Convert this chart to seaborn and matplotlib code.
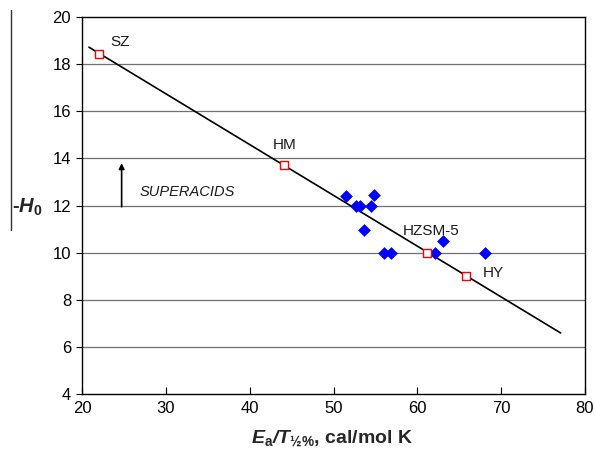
import matplotlib
matplotlib.use("Agg")
import matplotlib.pyplot as plt
import seaborn as sns
import pandas as pd
from matplotlib.lines import Line2D

# ---- data ----
blue_x = [51.5, 54.8, 52.7, 53.2, 54.5, 53.6, 56.0, 56.9, 62.1, 63.0, 68.1]
blue_y = [12.42, 12.44, 12.0, 12.0, 12.0, 10.98, 10.0, 10.0, 10.0, 10.52, 10.0]

red_names = ["SZ", "HM", "HZSM-5", "HY"]
red_x = [22.0, 44.1, 61.2, 65.8]
red_y = [18.45, 13.73, 10.0, 9.0]

fit_x = [20.8, 77.1]
fit_y = [18.72, 6.6]

x_ticks = [20, 30, 40, 50, 60, 70, 80]
y_ticks = [4, 6, 8, 10, 12, 14, 16, 18, 20]

sns.set_style("white")
plt.rcParams["font.family"] = ["Liberation Sans", "DejaVu Sans"]
plt.rcParams["mathtext.fontset"] = "custom"
plt.rcParams["mathtext.rm"] = "Liberation Sans"
plt.rcParams["mathtext.it"] = "Liberation Sans:italic"
plt.rcParams["mathtext.bf"] = "Liberation Sans:bold"
plt.rcParams["mathtext.bfit"] = "Liberation Sans:bold:italic"

fig = plt.figure(figsize=(5.96, 4.51), dpi=100)
ax = fig.add_axes([0.138, 0.1257, 0.9815 - 0.138, 0.9623 - 0.1257])

# grid lines
for yv in y_ticks[1:-1]:
    ax.axhline(yv, color="#707070", lw=0.9, zorder=0)

df_fit = pd.DataFrame({"x": fit_x, "y": fit_y})
sns.lineplot(data=df_fit, x="x", y="y", color="black", lw=1.2, ax=ax, zorder=2)

df_blue = pd.DataFrame({"x": blue_x, "y": blue_y})
sns.scatterplot(data=df_blue, x="x", y="y", marker="D", s=36, color="#0000ff",
                edgecolor="#0000ff", linewidth=0.5, ax=ax, zorder=3)

df_red = pd.DataFrame({"x": red_x, "y": red_y, "name": red_names})
sns.scatterplot(data=df_red, x="x", y="y", marker="s", s=26, facecolor="white",
                edgecolor="#ff0000", linewidth=1.0, ax=ax, zorder=4)

# labels of red points
label_pos = {"SZ": (24.5, 18.94), "HM": (44.2, 14.57), "HZSM-5": (61.6, 10.92), "HY": (69.1, 9.14)}
for n in red_names:
    lx, ly = label_pos[n]
    ax.text(lx, ly, n, fontsize=11, ha="center", va="center", color="#1a1a1a")

ax.text(26.8, 12.6, "SUPERACIDS", fontsize=10.5, style="italic", ha="left", va="center",
        color="#1a1a1a")
ax.annotate("", xy=(24.7, 13.8), xytext=(24.7, 11.95),
            arrowprops=dict(arrowstyle="-|>", color="black", lw=1.2,
                            mutation_scale=8, shrinkA=0, shrinkB=0))

ax.set_xlim(20, 80)
ax.set_ylim(4, 20)
ax.set_xticks(x_ticks)
ax.set_yticks(y_ticks)
ax.set_xticks(range(22, 80, 2), minor=True)
ax.set_yticks(range(5, 20, 2), minor=True)
ax.tick_params(axis="x", which="both", direction="in", length=4, width=0.8,
               labelsize=12, colors="black", pad=5)
ax.tick_params(axis="x", which="major", length=5)
ax.tick_params(axis="y", which="both", direction="out", length=4, width=0.8,
               labelsize=12, colors="black", pad=4)
ax.tick_params(left=True, bottom=True)
for sp in ax.spines.values():
    sp.set_visible(True)
    sp.set_color("black")
    sp.set_linewidth(1.0)

ax.set_xlabel("")
ax.set_ylabel("")

fig.text(332 / 596, 1 - 439 / 451,
         r"$\mathbfit{E}_{\mathbf{a}}\mathbfit{/T}_{\mathbf{½\%}}$, cal/mol K",
         fontsize=14, fontweight="bold", ha="center", va="center")
fig.text(27 / 596, 1 - 207 / 451, r"-$\mathbfit{H}_{\mathbf{0}}$",
         fontsize=14.5, fontweight="bold", ha="center", va="center")
fig.add_artist(Line2D([11 / 596, 11 / 596], [1 - 10 / 451, 1 - 230 / 451],
                      color="#333333", lw=1.0, transform=fig.transFigure))

fig.savefig("out.png", dpi=100)
